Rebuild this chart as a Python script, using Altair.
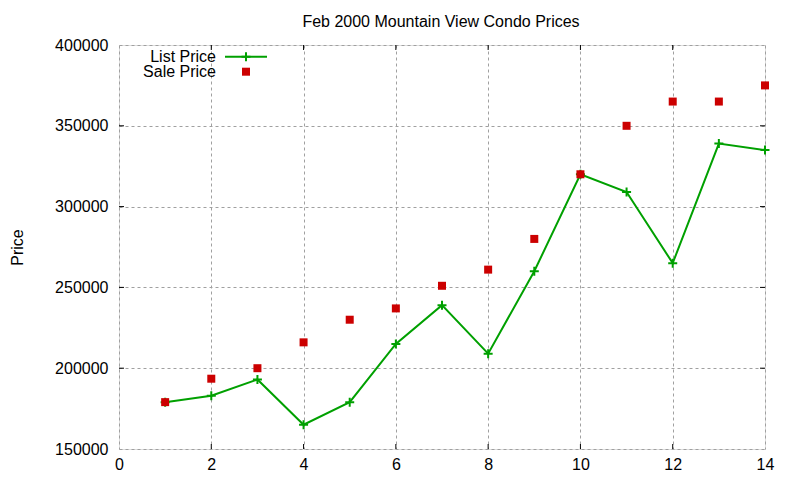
import altair as alt
import pandas as pd

# ---- data ----
months = [1, 2, 3, 4, 5, 6, 7, 8, 9, 10, 11, 12, 13, 14]
list_price = [179000, 183000, 193000, 165000, 179000, 215000, 239000,
              209000, 260000, 320000, 309000, 265000, 339000, 335000]
sale_price = [179000, 193500, 200000, 216000, 230000, 237000, 251000,
              261000, 280000, 320000, 350000, 365000, 365000, 375000]
series_names = ["List Price", "Sale Price"]
x_ticks = [0, 2, 4, 6, 8, 10, 12, 14]
y_ticks = [150000, 200000, 250000, 300000, 350000, 400000]
title_text = "Feb 2000 Mountain View Condo Prices"
y_title = "Price"

W, H = 646, 404
FONT = "Liberation Sans"
GREEN = "#00a000"
RED = "#cc0000"
PLUS = "M-1,0L1,0M0,-1L0,1"

df = pd.DataFrame({"month": months, "list": list_price, "sale": sale_price})
xt = pd.DataFrame({"t": x_ticks[1:-1]})
yt = pd.DataFrame({"t": y_ticks[1:-1]})
leg1 = pd.DataFrame({"label": [series_names[0]]})
leg2 = pd.DataFrame({"label": [series_names[1]]})
ttl = pd.DataFrame({"label": [title_text]})

xscale = alt.Scale(domain=[0, 14], nice=False, zero=False)
yscale = alt.Scale(domain=[150000, 400000], nice=False, zero=False)

x_axis = alt.Axis(values=x_ticks, title=None, grid=True, gridColor="#a0a0a0",
                  gridDash=[3, 3], gridWidth=1, gridOpacity=1, tickSize=0,
                  ticks=False, domain=False, labelFont=FONT, labelFontSize=16,
                  labelColor="black", labelPadding=7, labelFlush=False)
y_axis = alt.Axis(values=y_ticks, title=y_title, format="d", grid=True,
                  gridColor="#a0a0a0", gridDash=[3, 3], gridWidth=1,
                  gridOpacity=1, tickSize=0, ticks=False, domain=False,
                  labelFont=FONT, labelFontSize=16, labelColor="black",
                  labelPadding=11, labelFlush=False, titleFont=FONT,
                  titleFontSize=16, titleFontWeight="normal",
                  titleColor="black", titleAngle=-90, titleX=-97,
                  titleY=H / 2, titleAlign="center",
                  titleBaseline="alphabetic")

X = lambda f: alt.X(f, scale=xscale, axis=x_axis)
Y = lambda f: alt.Y(f, scale=yscale, axis=y_axis)

base = alt.Chart(df)

line = base.mark_line(color=GREEN, strokeWidth=2).encode(
    x=X("month:Q"), y=Y("list:Q"))
plus = base.mark_point(shape=PLUS, filled=False, color=GREEN, strokeWidth=2,
                       size=81, opacity=1).encode(
    x=X("month:Q"), y=Y("list:Q"))
squares = base.mark_square(color=RED, size=64, opacity=1).encode(
    x=X("month:Q"), y=Y("sale:Q"))

# inward tick marks on all four sides
tick_style = dict(color="black", strokeWidth=1)
xb = alt.Chart(xt).mark_rule(**tick_style).encode(
    x=X("t:Q"), y=alt.value(H), y2=alt.value(H - 5))
xtp = alt.Chart(xt).mark_rule(**tick_style).encode(
    x=X("t:Q"), y=alt.value(0), y2=alt.value(5))
yl = alt.Chart(yt).mark_rule(**tick_style).encode(
    y=Y("t:Q"), x=alt.value(0), x2=alt.value(5))
yr = alt.Chart(yt).mark_rule(**tick_style).encode(
    y=Y("t:Q"), x=alt.value(W), x2=alt.value(W - 5))

# legend (gnuplot style: label left, sample right)
txt_style = dict(font=FONT, fontSize=16, color="black", align="right",
                 baseline="alphabetic")
leg_t1 = alt.Chart(leg1).mark_text(**txt_style).encode(
    text="label:N", x=alt.value(97), y=alt.value(16.5))
leg_t2 = alt.Chart(leg2).mark_text(**txt_style).encode(
    text="label:N", x=alt.value(97), y=alt.value(32))
leg_line = alt.Chart(leg1).mark_rule(color=GREEN, strokeWidth=2).encode(
    x=alt.value(106), x2=alt.value(148), y=alt.value(11.7))
leg_plus = alt.Chart(leg1).mark_point(shape=PLUS, filled=False, color=GREEN,
                                      strokeWidth=2, size=81, opacity=1).encode(
    x=alt.value(127), y=alt.value(11.7))
leg_sq = alt.Chart(leg2).mark_square(color=RED, size=64, opacity=1).encode(
    x=alt.value(127), y=alt.value(26.7))

# chart title, centred over the plot area
title_mark = alt.Chart(ttl).mark_text(
    font=FONT, fontSize=16, color="black", align="center",
    baseline="alphabetic").encode(
    text="label:N", x=alt.value(W / 2 - 1), y=alt.value(-17.7))

chart = alt.layer(
    line, plus, squares, xb, xtp, yl, yr,
    leg_t1, leg_t2, leg_line, leg_plus, leg_sq, title_mark,
).properties(
    width=W, height=H,
    autosize=alt.AutoSizeParams(type="none"),
    padding={"left": 111, "top": 37, "right": 20, "bottom": 30},
).configure_view(
    stroke="black", strokeWidth=1
).configure(background="white")

chart.save("out.html", embed_options={"renderer": "svg", "actions": False})
